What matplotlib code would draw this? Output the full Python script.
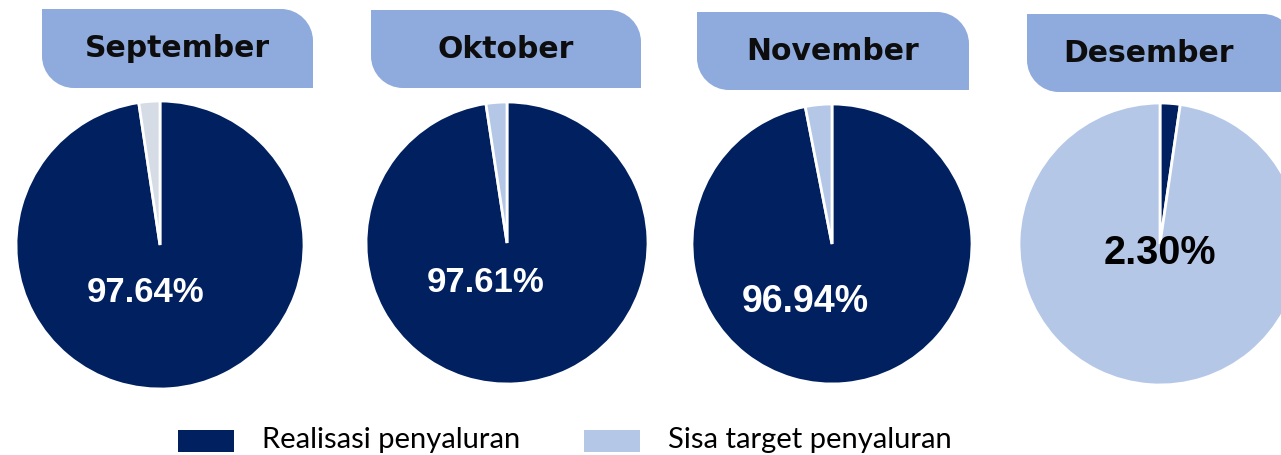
import matplotlib.pyplot as plt
from matplotlib.path import Path
from matplotlib.patches import PathPatch

months = ["September", "Oktober", "November", "Desember"]
realisasi = [97.64, 97.61, 96.94, 2.30]
sisa = [100 - v for v in realisasi]
legend_labels = ["Realisasi penyaluran", "Sisa target penyaluran"]

dark = "#002060"
light = "#B4C7E7"
grey = "#D6DCE5"
tab_col = "#8FAADC"

W, H = 1281, 455
fig = plt.figure(figsize=(W / 100, H / 100), dpi=100)
ax = fig.add_axes([0, 0, 1, 1])

# layout in pixels (y from top)
pie_centers = [(160, 245), (507, 243), (832, 244), (1160, 244)]
pie_radius = [144, 141, 140, 141]
tabs = [(42, 9, 313, 88), (371, 10, 641, 88), (697, 12, 969, 90), (1027, 14, 1295, 92)]
label_pos = [(146, 292), (486, 283), (805, 302), (1160, 253)]
label_size = [25, 25, 27, 28.5]
rest_colors = [grey, light, light, light]
label_colors = ["white", "white", "white", "black"]


def tab_path(x0, y0, x1, y1, r=32):
    # y given from top; convert
    t, b = H - y0, H - y1
    k = 0.5523 * r
    verts = [
        (x0, t), (x1 - r, t),
        (x1 - r + k, t), (x1, t - r + k), (x1, t - r),
        (x1, b), (x0 + r, b),
        (x0 + r - k, b), (x0, b + r - k), (x0, b + r),
        (x0, t), (x0, t),
    ]
    codes = [Path.MOVETO, Path.LINETO,
             Path.CURVE4, Path.CURVE4, Path.CURVE4,
             Path.LINETO, Path.LINETO,
             Path.CURVE4, Path.CURVE4, Path.CURVE4,
             Path.LINETO, Path.CLOSEPOLY]
    return Path(verts, codes)


for i, m in enumerate(months):
    cx, cy = pie_centers[i]
    ax.pie([realisasi[i], sisa[i]], colors=[dark, rest_colors[i]],
           startangle=90, counterclock=False, center=(cx, H - cy),
           radius=pie_radius[i], frame=True,
           wedgeprops=dict(edgecolor="white", linewidth=2))
    x0, y0, x1, y1 = tabs[i]
    ax.add_patch(PathPatch(tab_path(x0, y0, x1, y1), facecolor=tab_col,
                           edgecolor="none", zorder=3))
    ax.text((x0 + min(x1, W + 10)) / 2 - (10 if i == 3 else 0), H - (y0 + y1) / 2,
            m, ha="center", va="center", fontsize=21.5, fontweight="bold",
            family="DejaVu Sans", color="#0d0d0d", zorder=4)
    lx, ly = label_pos[i]
    ax.text(lx, H - ly, f"{realisasi[i]:.2f}%", ha="center", va="center",
            fontsize=label_size[i], fontweight="bold",
            family="Liberation Sans", color=label_colors[i], zorder=5)

# legend
leg_x = [178, 584]
txt_x = [262, 668]
for j in range(2):
    ax.add_patch(plt.Rectangle((leg_x[j], H - 452), 56, 22,
                               facecolor=[dark, light][j], edgecolor="none"))
    ax.text(txt_x[j], H - 440, legend_labels[j], ha="left", va="center",
            fontsize=21, family="Lato", color="black")

ax.set_xlim(0, W)
ax.set_ylim(0, H)
ax.set_aspect("auto")
ax.axis("off")
fig.savefig("out.png", dpi=100)
